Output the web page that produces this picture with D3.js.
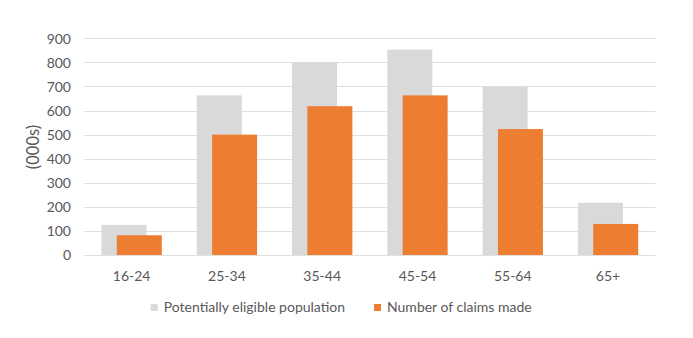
<!DOCTYPE html>
<html><head><meta charset="utf-8">
<script src="https://cdn.jsdelivr.net/npm/d3@7"></script>
<style>body{margin:0;background:#fff}svg{display:block}</style>
</head><body>
<svg id="c" width="693" height="338"></svg>
<script>
const categories = ["16-24","25-34","35-44","45-54","55-64","65+"];
const eligible = [125, 663, 799, 853, 698, 217];
const claims = [82, 500, 618, 663, 523, 129];
const yTicks = [0,100,200,300,400,500,600,700,800,900];
const seriesNames = ["Potentially eligible population","Number of claims made"];
const colors = ["#d9d9d9","#ed7d31"];

(function(){
const svg = d3.select("#c");
const font = "Lato, 'Open Sans', sans-serif";
const textColor = "#595959";
const pL = 84, pR = 655.7, pT = 38.3, pB = 255;

const x = d3.scaleBand().domain(categories).range([pL, pR]).paddingInner(0.367).paddingOuter(0.1835);
const y = d3.scaleLinear().domain([0, 900]).range([pB, pT]);

// gridlines
svg.append("g").selectAll("line").data(yTicks).join("line")
  .attr("x1", pL).attr("x2", pR)
  .attr("y1", d => Math.round(y(d)) + 0.5).attr("y2", d => Math.round(y(d)) + 0.5)
  .attr("stroke", "#e0e0e0").attr("stroke-width", 1);

// y axis labels
const yAxis = d3.axisLeft(y).tickValues(yTicks).tickSize(0).tickPadding(13);
const ya = svg.append("g").attr("transform", `translate(${pL},0)`).call(yAxis);
ya.select(".domain").remove();
ya.selectAll("text").attr("font-family", font).attr("font-size", 14).attr("fill", textColor).attr("dy", "0.35em");

// x axis labels
const xAxis = d3.axisBottom(x).tickSize(0).tickPadding(16);
const xa = svg.append("g").attr("transform", `translate(0,${pB})`).call(xAxis);
xa.select(".domain").remove();
xa.selectAll("text").attr("font-family", font).attr("font-size", 14).attr("fill", textColor);

// bars
const bw = x.bandwidth() * 0.746;
svg.append("g").selectAll("rect").data(categories).join("rect")
  .attr("x", d => x(d)).attr("width", bw)
  .attr("y", (d,i) => y(eligible[i])).attr("height", (d,i) => y(0) - y(eligible[i]))
  .attr("fill", colors[0]);
svg.append("g").selectAll("rect").data(categories).join("rect")
  .attr("x", d => x(d) + x.bandwidth() - bw).attr("width", bw)
  .attr("y", (d,i) => y(claims[i])).attr("height", (d,i) => y(0) - y(claims[i]))
  .attr("fill", colors[1]);

// y title
svg.append("text").attr("transform", "translate(39,147) rotate(-90)")
  .attr("text-anchor", "middle").attr("font-family", font).attr("font-size", 16.5)
  .attr("fill", textColor).text("(000s)");

// legend
const legX = [150.7, 374];
const leg = svg.append("g").selectAll("g").data(seriesNames).join("g")
  .attr("transform", (d,i) => `translate(${legX[i]},0)`);
leg.append("rect").attr("x", 0).attr("y", 304).attr("width", 7).attr("height", 7)
  .attr("fill", (d,i) => colors[i]);
leg.append("text").attr("x", 13).attr("y", 312).attr("font-family", font).attr("font-size", 14)
  .attr("fill", textColor).text(d => d);
})();
</script>
</body></html>
